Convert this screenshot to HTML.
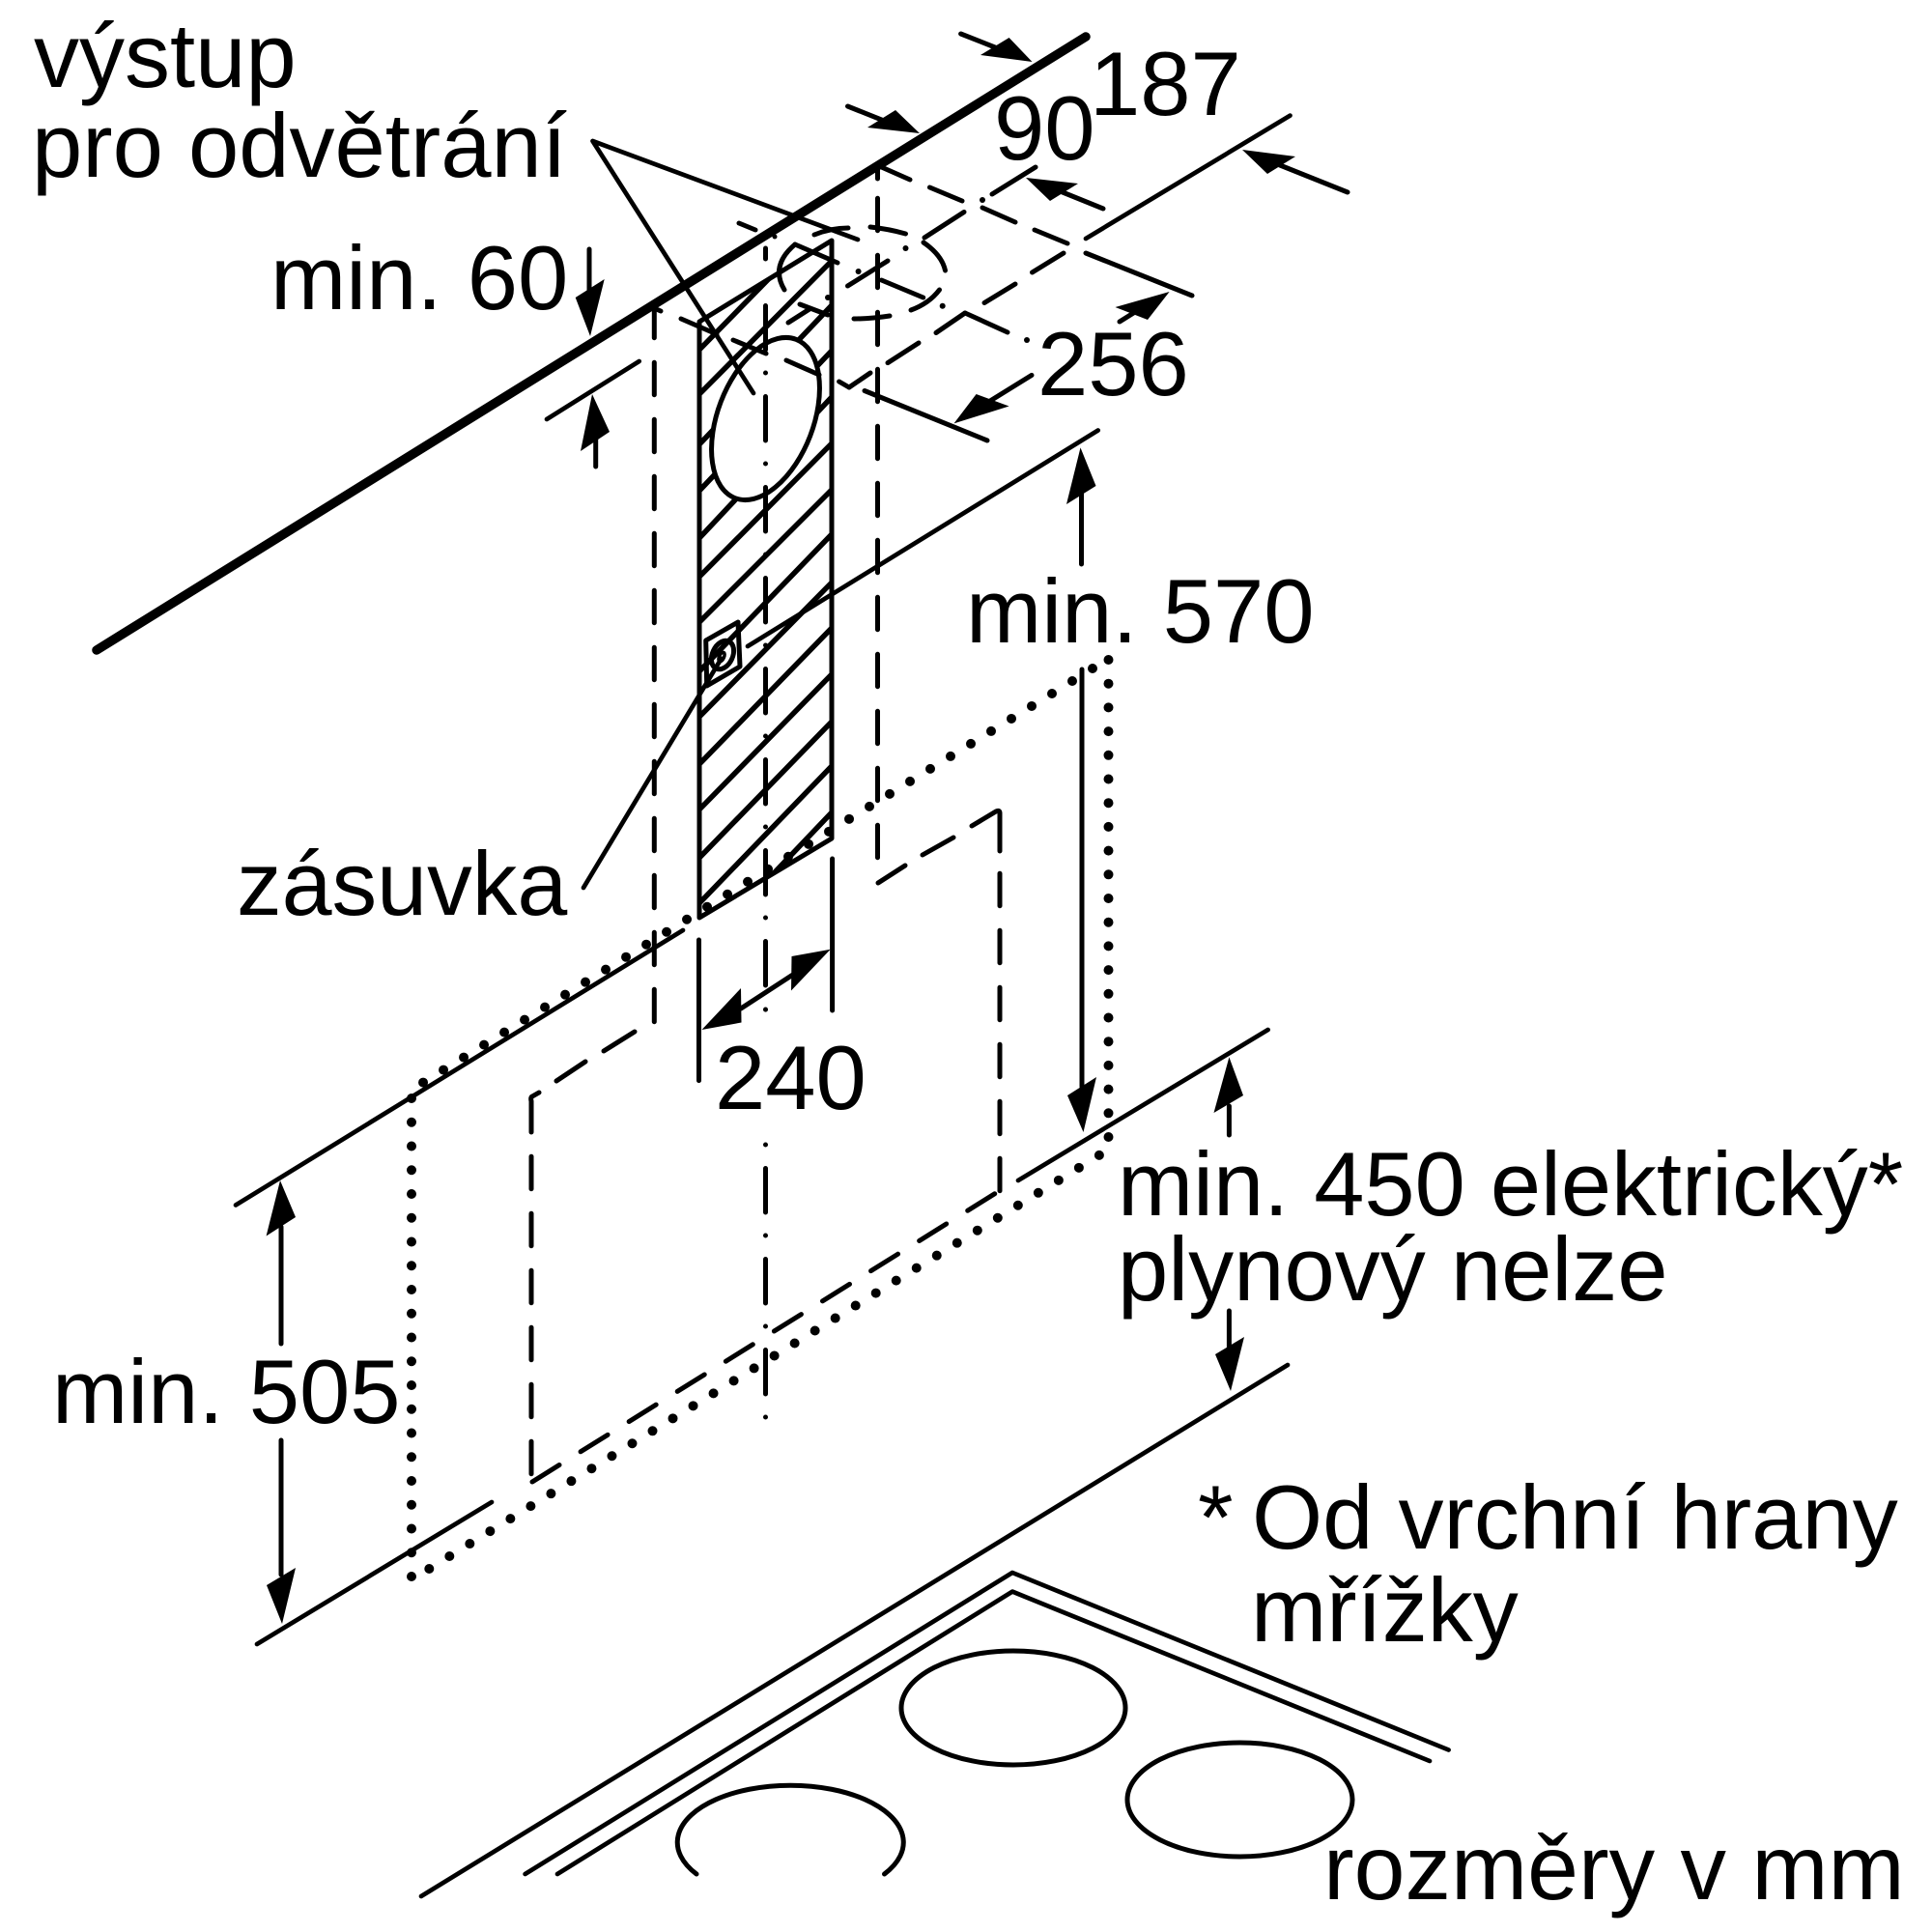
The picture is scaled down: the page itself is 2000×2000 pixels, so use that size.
<!DOCTYPE html>
<html><head><meta charset="utf-8"><style>
html,body{margin:0;padding:0;background:#fff}
svg{display:block}
text{font-family:"Liberation Sans",sans-serif;font-size:94px;fill:#000}
.s{fill:none;stroke:#000;stroke-width:4.7;stroke-linecap:round;stroke-linejoin:round}
.p{fill:none;stroke:#000;stroke-width:5;stroke-linecap:round;stroke-linejoin:round}
.d{fill:none;stroke:#000;stroke-width:5;stroke-linecap:round}
.o{fill:none;stroke:#000;stroke-width:10;stroke-linecap:round}
.a{fill:#000;stroke:none}
</style></head><body>
<svg width="2000" height="2000" viewBox="0 0 2000 2000" xmlns="http://www.w3.org/2000/svg">
<defs><clipPath id="c"><polygon points="724,333 861,249 861,868 724,950"/></clipPath></defs>
<rect width="2000" height="2000" fill="#fff"/>

<!-- hatch -->
<g class="p" style="stroke-width:5.5" clip-path="url(#c)">
<path d="M724 362L861 222M724 408L861 270M724 460L861 316M724 508L861 363M724 557L861 411M724 597L861 459M724 644L861 507M724 695L861 553M724 742L861 603M724 791L861 650M724 838L861 698M724 888L861 747M724 935L861 793M724 985L861 841"/>
</g>
<ellipse cx="792.5" cy="433.5" rx="49.5" ry="88" transform="rotate(21 792.5 433.5)" fill="#fff" stroke="#000" stroke-width="5"/>
<polygon class="p" points="724,333 861,249 861,868 724,950"/>

<!-- thick wall line -->
<line x1="100" y1="673" x2="1124" y2="38" stroke="#000" stroke-width="9.5" stroke-linecap="round"/>

<!-- leader lines -->
<path class="s" d="M613.5 146L888 248M613.5 146L780 407"/>

<!-- upper dashed geometry -->
<path class="p" d="M912.5 173L942 186M962.5 194L996 208M1017 215L1051 230M1071 238L1105 252"/>
<path class="p" d="M1124 262L1234 306"/>
<path class="p" d="M765 231L782 238M823 253L867 272M912.5 290L955.7 308M999 324L1043 344"/>
<circle class="a" cx="1017" cy="207" r="3"/><circle class="a" cx="975.7" cy="316.7" r="3"/><circle class="a" cx="1063" cy="352" r="3"/><circle class="a" cx="937.5" cy="257" r="3"/><circle class="a" cx="888.6" cy="281" r="3"/><circle class="a" cx="857" cy="308" r="3"/><circle class="a" cx="802" cy="245" r="2.5"/>
<path class="p" d="M705 330L742 346M759 352L793 366M814 373L848 388M868.6 395L879 401M895 404.5L1022 456"/>
<path class="s" stroke-width="5" d="M1124 247L1335.5 119.6"/>
<path class="p" d="M1101 262L1068.5 282M1051 294L1019 313.5M999 324L969 344.5M951 355L919 375.6M901 386L879 401"/>
<path class="p" d="M1027 201L1072 173M998 219.5L957 246M919 270L877.5 296M816 334L838 320"/>

<!-- dashed ellipse -->
<path class="p" d="M843 243Q860 236 878 236M901 235Q920 237 937.5 242M956 251Q975 264 978.5 280M972.5 300Q962 314 943 321M921 327Q902 330 884 330M857 326L828 315M812 300Q797 275 823 253"/>

<!-- vertical dashed lines -->
<path class="p" d="M908.5 174V185"/>
<path class="d" stroke-dasharray="33.5 25.5" d="M908.5 205.25V888"/>
<path class="p" d="M909 914L937 896M955 885L987 867M1006 855L1031 840Q1035 838 1035 842V881"/>
<path class="d" stroke-dasharray="33.5 25.5" d="M1035 904.25V1234"/>
<path class="p" d="M677 319L684 322"/>
<path class="d" stroke-dasharray="33.5 25.5" d="M677.3 316.25V1058"/>
<path class="p" d="M657 1068L625 1088M606 1099L576 1119M558 1131L551 1135Q549 1136 550 1140V1172"/>
<path class="d" stroke-dasharray="33.5 25.5" d="M550 1197.25V1527"/>
<path class="d" stroke-dasharray="33 26" d="M551 1534L1031 1235"/>

<!-- center axis -->
<path class="d" d="M792.5 257V268"/>
<path class="d" stroke-dasharray="45.5 24 0 24.5" d="M792.5 316.5V1021"/>
<path class="d" d="M792.5 1045V1045.1"/>
<path class="d" stroke-dasharray="0 24.5 45.5 24" d="M792.5 1185V1470"/>

<!-- socket -->
<polygon class="p" fill="#fff" points="730.7,663 764,644 766,690 731.7,710"/>
<ellipse cx="748" cy="678" rx="10.5" ry="15.5" transform="rotate(25 748 678)" fill="none" stroke="#000" stroke-width="5"/>
<ellipse cx="747" cy="680" rx="2.5" ry="5" transform="rotate(25 747 680)" fill="none" stroke="#000" stroke-width="3.5"/>
<path class="s" d="M746.7 681.7L604 919"/>
<path class="s" d="M1136.7 445.5L774 669"/>

<!-- level lines -->
<path class="s" d="M244 1247.5L707 963"/>
<path class="s" d="M266 1702L509 1555"/>
<path class="s" d="M1054 1222L1312.6 1066"/>
<path class="s" d="M566 434L661.7 374"/>

<!-- dotted -->
<path class="o" stroke-dasharray="0 24.69" d="M1131 692L438 1120.6L437 1121"/>
<path class="o" stroke-dasharray="0 24.7" d="M1147.5 683V1178"/>
<path class="o" stroke-dasharray="0 24.75" d="M426 1137V1633"/>
<path class="o" stroke-dasharray="0 24.7" d="M444.3 1624L1137.7 1196L1139 1195"/>

<!-- hob -->
<path class="s" stroke-width="5" d="M436 1963L1333 1413"/>
<path class="s" stroke-width="5" d="M543.6 1940L1048 1628L1499.6 1811.5"/>
<path class="s" stroke-width="5" d="M577 1940L1048 1647.6L1480 1823"/>
<ellipse cx="1049" cy="1768" rx="116" ry="59" class="p"/>
<ellipse cx="1283.5" cy="1863" rx="116.5" ry="59" class="p"/>
<path class="p" d="M721 1940A117 59 0 1 1 915.5 1940"/>

<!-- arrows: shaft + head -->
<path class="p" d="M994.6 35L1035 51"/><polygon class="a" points="1068.5,64 1044.6,39 1015,57"/>
<path class="p" d="M877.5 110L920 127"/><polygon class="a" points="952,138 927,114 898,132"/>
<path class="p" d="M1395 199L1320 169"/><polygon class="a" points="1286,155 1341,162 1312,180"/>
<path class="p" d="M1142 216L1095 197"/><polygon class="a" points="1062,184 1116,190 1087,208"/>
<path class="p" d="M1159 333L1175 323"/><polygon class="a" points="1210.6,302 1154.5,318 1188,331"/>
<path class="p" d="M1068 388.4L1025 415"/><polygon class="a" points="987.5,438.4 1044.6,420.5 1010.6,408"/>
<path class="p" d="M610 258V300"/><polygon class="a" points="611,348 595.7,308 625.7,289"/>
<path class="p" d="M616.7 483V455"/><polygon class="a" points="613,408 601,467 631,447"/>
<path class="p" d="M1119.5 584V510"/><polygon class="a" points="1118.5,463.4 1104,522 1134.5,503"/>
<path class="p" d="M1120 693V1125"/><polygon class="a" points="1121.5,1172 1105,1134 1135,1115"/>
<path class="p" d="M723.5 973V1118.6M861.6 889V1046"/>
<path class="p" d="M767 1044L820 1009.5"/>
<polygon class="a" points="726.5,1066 767,1023 767.5,1058.5"/><polygon class="a" points="859.7,982.7 819.5,990 819,1025.5"/>
<path class="p" d="M291 1391V1270"/><polygon class="a" points="290,1222 275.6,1279.5 306,1260"/>
<path class="p" d="M291 1491V1630"/><polygon class="a" points="292,1681 276,1641 306,1623"/>
<path class="p" d="M1272.4 1175V1145"/><polygon class="a" points="1272.4,1094.4 1256.5,1152 1287,1134"/>
<path class="p" d="M1272.4 1357V1395"/><polygon class="a" points="1274,1440 1258,1402 1288,1384"/>

<!-- labels -->
<text x="35" y="90">výstup</text>
<text x="33" y="183">pro odvětrání</text>
<text x="280" y="320">min. 60</text>
<text x="1128" y="119">187</text>
<text x="1029" y="165">90</text>
<text x="1074" y="409">256</text>
<text x="1000" y="665">min. 570</text>
<text x="245" y="947" style="font-size:93.3px">zásuvka</text>
<text x="740" y="1148">240</text>
<text x="54" y="1473">min. 505</text>
<text x="1157" y="1258" style="font-size:93.8px">min. 450 elektrický*</text>
<text x="1157" y="1346">plynový nelze</text>
<text x="1240" y="1603">*</text>
<text x="1296" y="1603">Od vrchní hrany</text>
<text x="1295" y="1699">mřížky</text>
<text x="1370" y="1966" style="font-size:95px">rozměry v mm</text>
</svg>
</body></html>
